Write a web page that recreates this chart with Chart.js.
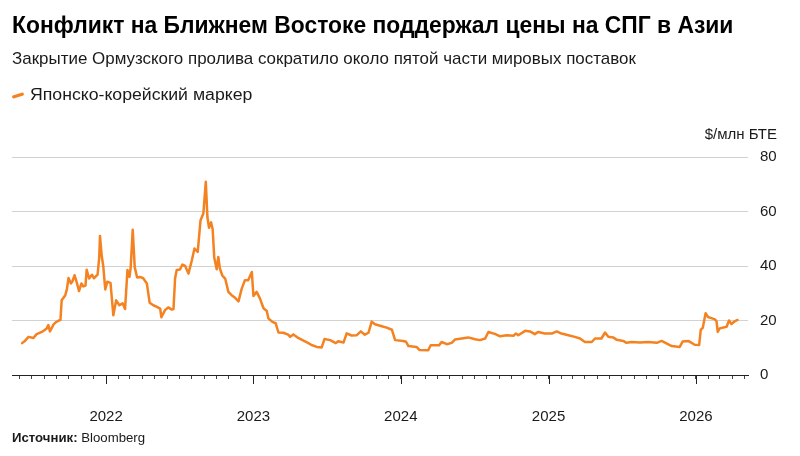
<!DOCTYPE html>
<html>
<head>
<meta charset="utf-8">
<script src="https://cdn.jsdelivr.net/npm/chart.js@4.4.1/dist/chart.umd.min.js"></script>
<style>
html,body{margin:0;padding:0;background:#fff;}
#wrap{position:relative;width:800px;height:456px;overflow:hidden;font-family:"Liberation Sans",Arial,sans-serif;color:#000;}
#wrap canvas{position:absolute;left:0;top:0;}
.t{position:absolute;white-space:nowrap;transform-origin:0 50%;line-height:1;z-index:2;}
#title{left:12px;top:13px;font-size:24px;font-weight:bold;color:#000;}
#subtitle{left:12px;top:49.5px;font-size:17px;color:#1a1a1a;}
#legend{left:30px;top:87px;font-size:16px;color:#1a1a1a;}
#swatch{position:absolute;left:12px;top:93.5px;width:12px;height:3px;background:#f58220;transform:rotate(-18deg);border-radius:1px;z-index:2;}
#unit{right:23px;top:125.5px;font-size:15px;color:#1a1a1a;transform-origin:100% 50%;}
#source{left:12px;top:430.5px;font-size:13px;color:#1a1a1a;}
#source b{font-weight:bold;}
</style>
</head>
<body>
<div id="wrap">
  <canvas id="c" width="800" height="456"></canvas>
  <div id="title" class="t fit" data-w="721">Конфликт на Ближнем Востоке поддержал цены на СПГ в Азии</div>
  <div id="subtitle" class="t fit" data-w="624">Закрытие Ормузского пролива сократило около пятой части мировых поставок</div>
  <div id="swatch"></div>
  <div id="legend" class="t fit" data-w="222">Японско-корейский маркер</div>
  <div id="unit" class="t">$/млн БТЕ</div>
  <div id="source" class="t fit" data-w="133"><b>Источник:</b> Bloomberg</div>
</div>
<script>
// ---- data ----
const seriesName = 'Японско-корейский маркер';
const dates = [
'2021-06-07','2021-06-14','2021-06-23','2021-07-05','2021-07-13','2021-07-26','2021-08-01','2021-08-07','2021-08-11','2021-08-15',
'2021-08-24','2021-08-30','2021-09-05','2021-09-10','2021-09-13','2021-09-22','2021-09-26','2021-09-30','2021-10-06','2021-10-10',
'2021-10-15','2021-10-20','2021-10-26','2021-11-01','2021-11-06','2021-11-11','2021-11-14','2021-11-20','2021-11-27','2021-12-02',
'2021-12-11','2021-12-15','2021-12-17','2021-12-21','2021-12-25','2021-12-30','2022-01-04','2022-01-12','2022-01-19','2022-01-26',
'2022-02-03','2022-02-11','2022-02-17','2022-02-23','2022-02-28','2022-03-03','2022-03-08','2022-03-13','2022-03-19','2022-03-26',
'2022-04-03','2022-04-12','2022-04-19','2022-04-28','2022-05-07','2022-05-15','2022-05-18','2022-05-27','2022-06-04','2022-06-13',
'2022-06-17','2022-06-21','2022-06-25','2022-07-03','2022-07-09','2022-07-16','2022-07-24','2022-08-01','2022-08-08','2022-08-16',
'2022-08-23','2022-08-30','2022-09-05','2022-09-09','2022-09-13','2022-09-18','2022-09-22','2022-09-26','2022-10-02','2022-10-06',
'2022-10-10','2022-10-16','2022-10-23','2022-10-31','2022-11-08','2022-11-16','2022-11-25','2022-12-03','2022-12-11','2022-12-19',
'2022-12-28','2023-01-01','2023-01-09','2023-01-17','2023-01-26','2023-02-03','2023-02-07','2023-02-17','2023-02-25','2023-03-04',
'2023-03-16','2023-03-28','2023-04-02','2023-04-10','2023-04-22','2023-05-05','2023-05-16','2023-05-25','2023-06-07','2023-06-19',
'2023-06-26','2023-07-10','2023-07-24','2023-07-30','2023-08-12','2023-08-20','2023-09-01','2023-09-14','2023-09-24','2023-10-04',
'2023-10-13','2023-10-21','2023-10-29','2023-11-15','2023-11-27','2023-12-10','2023-12-18','2024-01-07','2024-01-14','2024-01-20',
'2024-02-09','2024-02-16','2024-03-09','2024-03-15','2024-04-05','2024-04-11','2024-04-24','2024-05-06','2024-05-14','2024-05-31',
'2024-06-16','2024-07-03','2024-07-15','2024-07-28','2024-08-05','2024-08-21','2024-09-03','2024-09-19','2024-10-06','2024-10-12',
'2024-10-18','2024-11-04','2024-11-16','2024-11-28','2024-12-06','2024-12-23','2025-01-09','2025-01-21','2025-02-02','2025-02-19',
'2025-03-07','2025-03-20','2025-04-01','2025-04-18','2025-04-26','2025-05-12','2025-05-21','2025-05-29','2025-06-10','2025-06-19',
'2025-07-05','2025-07-13','2025-07-26','2025-08-15','2025-09-05','2025-09-26','2025-10-08','2025-10-20','2025-11-02','2025-11-22',
'2025-11-29','2025-12-13','2025-12-29','2026-01-09','2026-01-13','2026-01-18','2026-01-25','2026-01-31','2026-02-10','2026-02-17',
'2026-02-21','2026-02-24','2026-03-01','2026-03-18','2026-03-24','2026-03-30','2026-04-08','2026-04-14'
];
const prices = [
11.7,12.5,14.0,13.6,15.0,15.8,16.4,17.1,18.3,16.0,
18.6,19.4,19.9,20.2,27.4,29.3,31.5,35.6,33.6,34.5,
36.6,34.2,30.8,33.6,32.5,32.8,38.6,35.4,36.8,35.5,
36.8,43.0,51.0,44.0,40.0,31.4,34.2,33.8,21.9,27.4,
25.6,26.3,24.2,38.5,36.0,39.5,53.3,39.5,35.8,36.0,
35.5,33.6,26.5,25.6,25.0,24.4,21.2,23.8,24.8,24.0,
24.2,35.5,38.5,38.7,40.5,40.0,37.2,41.8,46.4,45.2,
56.8,59.3,70.9,58.0,54.0,56.0,53.5,43.0,38.8,43.3,
39.0,36.5,35.4,30.5,29.3,28.4,27.0,31.7,34.8,34.8,
37.8,29.0,30.5,28.1,24.5,23.5,20.8,19.5,19.0,15.6,
15.5,14.8,14.0,14.9,13.6,12.6,11.8,11.0,10.3,10.1,
13.2,12.8,11.7,12.4,11.9,15.3,14.5,14.6,16.0,14.8,
15.5,19.6,18.6,17.9,17.4,16.6,12.8,12.5,12.2,10.6,
10.3,9.2,9.1,10.9,10.9,12.1,11.3,11.8,13.0,13.4,
13.8,13.1,12.8,13.4,15.8,15.1,14.2,14.6,14.4,15.2,
14.6,16.2,16.0,15.0,15.8,15.2,15.2,16.0,15.2,14.6,
14.0,13.4,12.1,12.1,13.4,13.4,15.6,14.0,13.8,12.9,
12.5,11.8,12.1,11.9,12.1,11.8,12.5,11.6,10.6,10.3,
12.3,12.5,11.1,11.0,16.6,17.3,22.7,21.3,20.8,20.4,
19.8,15.8,17.1,17.7,20.0,18.7,19.8,20.2
];
const xRange = ['2021-05-13','2026-05-10'];
const yearTicks = ['2022-01-01','2023-01-01','2024-01-01','2025-01-01','2026-01-01'];
const yearLabels = ['2022','2023','2024','2025','2026'];
const yTicks = [0,20,40,60,80];

// ---- fit narrow header texts ----
document.querySelectorAll('.fit').forEach(el => {
  const target = +el.dataset.w;
  const w = el.offsetWidth;
  if (w > 0) el.style.transform = 'scaleX(' + (target / w) + ')';
});

// ---- build ----
const ts = s => Date.parse(s + 'T00:00:00Z');
const points = dates.map((d, i) => ({ x: ts(d), y: prices[i] }));
const xMin = ts(xRange[0]), xMax = ts(xRange[1]);
const yearTs = yearTicks.map(ts);
const monthTicks = [];
for (let y = 2021; y <= 2026; y++) {
  for (let m = 0; m < 12; m++) {
    const v = Date.UTC(y, m, 1);
    if (v >= xMin && v <= xMax) monthTicks.push(v);
  }
}
const ORANGE = '#f58220';

const majorTicks = {
  id: 'majorTicks',
  afterDraw(chart) {
    const x = chart.scales.x, ctx = chart.ctx, b = chart.chartArea.bottom;
    ctx.save();
    ctx.strokeStyle = '#222';
    ctx.lineWidth = 1;
    yearTs.forEach(v => {
      const px = Math.round(x.getPixelForValue(v)) + 0.5;
      ctx.beginPath();
      ctx.moveTo(px, b);
      ctx.lineTo(px, b + 9);
      ctx.stroke();
    });
    ctx.restore();
  }
};

new Chart(document.getElementById('c'), {
  type: 'line',
  data: {
    datasets: [{
      label: seriesName,
      data: points,
      borderColor: ORANGE,
      backgroundColor: ORANGE,
      borderWidth: 2.5,
      pointRadius: 0,
      tension: 0,
      borderJoinStyle: 'round',
      borderCapStyle: 'round'
    }]
  },
  options: {
    responsive: false,
    animation: false,
    layout: { autoPadding: false, padding: { top: 157, left: 12, right: 0, bottom: 0 } },
    plugins: { legend: { display: false }, tooltip: { enabled: false } },
    scales: {
      x: {
        type: 'linear',
        min: xMin,
        max: xMax,
        border: { display: true, color: '#222', width: 1 },
        grid: { drawOnChartArea: false, drawTicks: true, tickLength: 4, tickColor: '#444', tickWidth: 1 },
        afterBuildTicks(scale) { scale.ticks = monthTicks.map(v => ({ value: v })); },
        afterFit(scale) { scale.height = 81; scale.paddingLeft = 0; scale.paddingRight = 0; },
        ticks: {
          autoSkip: false,
          maxRotation: 0,
          padding: 29,
          color: '#1a1a1a',
          font: { family: '"Liberation Sans", Arial, sans-serif', size: 15 },
          callback(value) {
            const i = yearTs.indexOf(value);
            return i >= 0 ? yearLabels[i] : '';
          }
        }
      },
      y: {
        position: 'right',
        min: 0,
        max: 80,
        afterBuildTicks(scale) { scale.ticks = yTicks.map(v => ({ value: v })); },
        afterFit(scale) { scale.width = 52; scale.paddingTop = 0; scale.paddingBottom = 0; },
        border: { display: false },
        grid: {
          drawTicks: false,
          lineWidth: 1,
          color: ctx => (ctx.tick && ctx.tick.value === 0) ? 'rgba(0,0,0,0)' : '#d2d2d2'
        },
        ticks: {
          padding: 12,
          color: '#1a1a1a',
          font: { family: '"Liberation Sans", Arial, sans-serif', size: 15 }
        }
      }
    }
  },
  plugins: [majorTicks]
});
</script>
</body>
</html>
